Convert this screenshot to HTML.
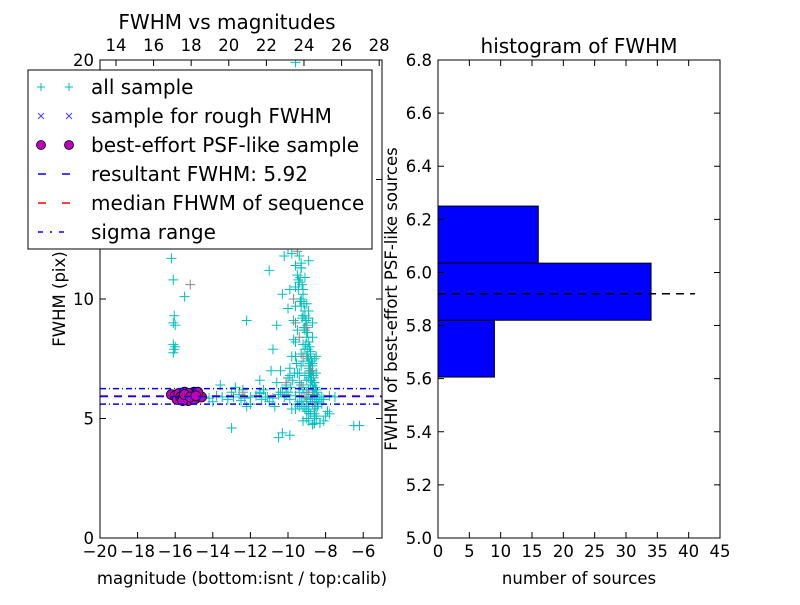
<!DOCTYPE html>
<html><head><meta charset="utf-8"><style>
body{margin:0;background:#fff;}
svg text{font-family:"DejaVu Sans","Liberation Sans",sans-serif;fill:#000;}
</style></head><body>
<svg id="fig" width="800" height="600" xmlns="http://www.w3.org/2000/svg">
<rect width="800" height="600" fill="#fff"/>
<g id="left"></g>
<g id="right"></g>
</svg>
<script>
// ---- data: left scatter ----
const allMag = [-16.2,-16.1,-16.05,-16.1,-16.05,-16.1,-16.0,-16.1,-16.05,-16.1,-16.0,-15.5,-13.2,-11.8,-11.0,-10.0,-9.5,-9.8,-10.2,-9.6,-9.3,-9.7,-9.5,-9.2,-9.6,-9.7,
-10.8,-10.6,-10.4,-10.3,-10.0,-9.9,-9.7,-9.6,-9.5,-9.4,-9.3,-9.3,-9.2,-9.1,-9.0,-9.0,-8.9,-8.8,-8.7,-8.6,-9.6,-9.5,-9.4,-9.3,-9.2,-9.1,-9.0,-8.9,-8.8,-9.4,-9.3,-9.2,-9.1,-9.0,-8.9,-8.8,-8.7,-9.2,-9.1,-9.0,-8.9,-8.8,-8.7,-8.6,-9.0,-8.9,-8.8,-8.7,-8.6,-8.5,-9.5,-9.3,-9.1,-8.9,-8.7,-8.5,-9.4,-9.2,-9.0,-8.8,-8.6,-8.4,-9.3,-9.1,-8.9,-8.7,-8.5,-10.3,-10.1,-9.9,-11.2,-10.9,-11.5,-12.2,-10.6,-9.8,-9.6,
-14.5,-14.2,-13.8,-13.5,-13.2,-12.9,-12.6,-12.3,-12.0,-11.7,-11.4,-11.1,-10.8,-10.5,-10.2,-9.9,-9.6,-9.3,-9.0,-8.7,-8.4,-8.1,-7.8,-7.5,-14.0,-13.0,-12.5,-11.5,-11.0,-10.0,-9.5,-8.9,-8.5,-8.2,-7.9,-12.8,-12.0,-11.3,-10.7,-10.1,-9.4,-9.1,-8.8,-8.6,-13.6,-12.2,-10.4,-9.8,-9.2,-8.3,
-13.0,-10.5,-10.3,-8.5,-8.6,-8.0,-7.8,-6.5,-6.2,-8.3,-8.1,-8.9,-8.7,-9.9,-12.4,-11.5,-10.1,
-9.4,-9.3,-9.35,-9.25,-9.2,-9.3,-9.15,-9.1,-9.2,-9.05,-9.0,-9.1,-8.95,-9.0,-8.9,-8.85,-8.95,-8.8,-8.9,-8.75,-8.8,-8.7,-8.85,-8.65,-8.75,-8.6,-8.7,-8.55,-8.65,-8.6,-8.5,-8.7,-8.55,-9.5,-9.45,-9.6,-9.7,-9.8,-9.9,-10.0,-10.1,-9.55,-9.65,-9.75,-9.85,-9.45,-9.35,-9.25,-9.15,-9.05,-8.95,-8.85,-8.75,-8.65,-8.45,-8.4,-9.3,-9.1,-8.9,-8.8,-9.0,-9.2,-8.6,-8.5,-8.45,-8.6,-8.8,-9.0,-9.2,-9.4,-9.6,-8.3,-8.2,-8.4];
const allFwhm = [11.7,12.7,12.8,10.8,9.3,9.0,8.9,8.1,7.9,7.75,8.0,10.1,12.3,12.7,11.2,12.1,12.6,13.0,11.8,11.4,11.5,13.5,14.2,16.4,19.9,13.8,
7.9,8.9,7.0,10.2,9.6,10.4,9.1,8.2,11.0,10.7,9.9,11.3,10.4,9.3,9.8,8.6,9.2,7.8,8.4,7.5,7.6,8.7,6.9,7.2,8.1,7.9,6.6,7.1,6.9,6.5,6.4,7.4,6.8,7.6,6.2,6.6,7.3,6.3,5.9,6.1,6.7,7.0,6.0,6.5,5.6,5.5,5.8,6.2,5.4,5.9,6.9,7.7,8.8,9.5,7.2,6.9,6.1,5.5,5.3,5.2,5.1,5.6,9.7,10.9,11.6,9.0,7.6,6.1,6.0,6.8,5.9,7.0,6.6,9.1,6.5,11.9,10.5,
5.9,5.85,5.95,5.9,5.8,5.9,6.0,5.85,5.9,5.95,5.8,5.9,5.85,6.0,5.9,5.8,5.95,5.9,5.85,5.9,5.7,5.8,5.95,5.9,5.7,6.1,5.75,6.05,5.7,6.1,5.6,5.5,6.2,5.6,5.3,6.3,5.6,6.2,5.5,6.3,5.7,5.4,6.4,5.2,6.4,5.5,6.1,5.4,6.2,5.8,
4.6,4.2,4.4,5.0,4.8,5.1,5.2,4.7,4.7,4.8,4.9,4.9,4.75,4.3,6.2,6.1,6.3,
11.8,11.3,10.9,10.6,10.2,10.0,9.8,9.5,9.3,9.1,8.9,8.7,8.6,8.4,8.2,8.0,7.9,7.7,7.5,7.4,7.2,7.0,6.9,6.8,6.6,6.5,6.4,6.3,6.2,6.0,5.8,5.7,5.5,12.2,10.8,9.7,8.3,7.6,7.1,6.7,6.4,7.3,6.9,6.6,6.3,10.4,9.9,9.2,8.8,8.1,7.6,7.3,6.9,6.7,6.1,5.9,5.6,5.4,5.3,5.2,5.0,4.9,4.8,5.1,5.5,5.7,5.8,5.7,5.6,5.5,5.4,5.8,5.9,5.6];
const roughMag = [-15.2,-9.6,-9.4,-9.2,-9.0,-8.8,-9.3,-9.1,-8.9,-9.5,-9.7,-10.1,-8.7,-12.4];
const roughFwhm = [10.6,9.0,8.4,7.6,8.8,7.0,6.4,5.9,6.1,12.0,10.0,6.5,5.6,6.1];
const psfMag = [-16.2,-16.0,-15.9,-15.8,-15.7,-15.6,-15.5,-15.4,-15.3,-15.2,-15.1,-15.0,-14.9,-14.8,-14.7,-14.6,-15.6,-15.3,-15.0,-14.8,-15.5,-15.2,-14.9];
const psfFwhm = [6.0,5.95,5.8,6.05,5.9,5.85,6.1,5.95,5.75,6.0,5.9,6.1,5.85,6.0,5.95,5.9,5.75,6.05,5.8,6.1,6.0,5.9,5.95];
const resultFwhm = 5.92, medianFwhm = 5.94, sigLow = 5.6, sigHigh = 6.25;
const xTicks = [-20,-18,-16,-14,-12,-10,-8,-6];
const xTickLabels = ["\u221220","\u221218","\u221216","\u221214","\u221212","\u221210","\u22128","\u22126"];
const yTicks = [0,5,10,15,20];
const yTickLabels = ["0","5","10","15","20"];
const topTicks = [14,16,18,20,22,24,26,28];
// ---- data: histogram ----
const binEdges = [5.606,5.82,6.035,6.25];
const binCounts = [9,34,16];
const hxTicks = [0,5,10,15,20,25,30,35,40,45];
const hyTicks = [5.0,5.2,5.4,5.6,5.8,6.0,6.2,6.4,6.6,6.8];
const hyTickLabels = ["5.0","5.2","5.4","5.6","5.8","6.0","6.2","6.4","6.6","6.8"];

const NS="http://www.w3.org/2000/svg";
function mk(p,t,a){const e=document.createElementNS(NS,t);for(const k in a)e.setAttribute(k,a[k]);p.appendChild(e);return e;}
const L=document.getElementById('left'), R=document.getElementById('right');
const FS=16.5, TS=20;
// left axes
const lx0=100,lx1=382,ly0=538,ly1=60;
const xs=v=>lx0+(v+20)/15*(lx1-lx0);
const ys=v=>ly0-v/20*(ly0-ly1);
const topS=v=>xs(v-33.15);
const clipDef=mk(L,'clipPath',{id:'lc'});mk(clipDef,'rect',{x:lx0,y:ly1,width:lx1-lx0,height:ly0-ly1});
const plot=mk(L,'g',{'clip-path':'url(#lc)'});


function plus(g,x,y,c,n){const p=mk(g,'path',{d:`M${x-5},${y}H${x+5}M${x},${y-5}V${y+5}`,stroke:c,'stroke-width':1,fill:'none'});}
allMag.forEach((m,i)=>plus(plot,xs(m),ys(allFwhm[i]),'#00bfbf','all-sample-point'));
roughMag.forEach((m,i)=>plus(plot,xs(m),ys(roughFwhm[i]),'#888','rough-sample-point'));
psfMag.forEach((m,i)=>{const c=mk(plot,'circle',{cx:xs(m),cy:ys(psfFwhm[i]),r:5,fill:'#bf00bf',stroke:'#000','stroke-width':0.8});

});
function hline(g,y,c,dash,n){const l=mk(g,'line',{x1:lx0,x2:lx1,y1:y,y2:y,stroke:c,'stroke-width':1.5,'stroke-dasharray':dash});}
hline(plot,ys(sigHigh),'#0000ff','6,3,1,3','sigma-high-line');
hline(plot,ys(sigLow),'#0000ff','6,3,1,3','sigma-low-line');
hline(plot,ys(medianFwhm),'#ff0000','8,6','median-line');
hline(plot,ys(resultFwhm),'#0000ff','8,6','result-line');
const lf=mk(L,'rect',{x:lx0,y:ly1,width:lx1-lx0,height:ly0-ly1,fill:'none',stroke:'#000'});

xTicks.forEach((v,i)=>{const x=xs(v);mk(L,'path',{d:`M${x},${ly0}v-6`,stroke:'#000'});
const t=mk(L,'text',{x:x,y:ly0+19,'text-anchor':'middle','font-size':FS});t.textContent=xTickLabels[i];
});
topTicks.forEach(v=>{const x=topS(v);mk(L,'path',{d:`M${x},${ly1}v6`,stroke:'#000'});
const t=mk(L,'text',{x:x,y:ly1-9,'text-anchor':'middle','font-size':FS});t.textContent=v;
});
yTicks.forEach((v,i)=>{const y=ys(v);mk(L,'path',{d:`M${lx0},${y}h6M${lx1},${y}h-6`,stroke:'#000'});
const t=mk(L,'text',{x:lx0-6,y:y+6,'text-anchor':'end','font-size':FS});t.textContent=yTickLabels[i];
});
let t;
t=mk(L,'text',{x:227,y:29,'text-anchor':'middle','font-size':TS});t.textContent='FWHM vs magnitudes';
t=mk(L,'text',{x:242,y:584,'text-anchor':'middle','font-size':FS});t.textContent='magnitude (bottom:isnt / top:calib)';
t=mk(L,'text',{x:0,y:0,'text-anchor':'middle','font-size':FS,transform:'translate(65,299) rotate(-90)'});t.textContent='FWHM (pix)';
// legend
const lg=mk(L,'g',{});
mk(lg,'rect',{x:28,y:70,width:344,height:179,fill:'#fff',stroke:'#000'});
const ent=[['all sample','plus'],['sample for rough FWHM','x'],['best-effort PSF-like sample','dot'],['resultant FWHM: 5.92','bdash'],['median FHWM of sequence','rdash'],['sigma range','dd']];
ent.forEach((e,i)=>{const y=87+i*29;const g=mk(lg,'g',{});
[41,69].forEach(x=>{if(e[1]=='plus')mk(g,'path',{d:`M${x-4},${y}h8M${x},${y-4}v8`,stroke:'#00bfbf'});
if(e[1]=='x')mk(g,'path',{d:`M${x-3},${y-3}l6,6M${x+3},${y-3}l-6,6`,stroke:'#4040ff'});
if(e[1]=='dot')mk(g,'circle',{cx:x,cy:y,r:4.5,fill:'#bf00bf',stroke:'#000','stroke-width':0.8});});
if(e[1]=='bdash')mk(g,'path',{d:`M38,${y}h8M62,${y}h8`,stroke:'#0000ff','stroke-width':1.5});
if(e[1]=='rdash')mk(g,'path',{d:`M38,${y}h8M62,${y}h8`,stroke:'#ff0000','stroke-width':1.5});
if(e[1]=='dd')mk(g,'path',{d:`M38,${y}h5M50,${y}h2M59,${y}h5`,stroke:'#0000ff','stroke-width':1.5});
const tt=mk(g,'text',{x:91,y:y+7,'font-size':TS});tt.textContent=e[0];});
// right histogram
const rx0=438,rx1=720,ry0=538,ry1=60;
const hx=v=>rx0+v/45*(rx1-rx0);
const hy=v=>ry0-(v-5)/1.8*(ry0-ry1);
binCounts.forEach((c,i)=>{const b=mk(R,'rect',{x:hx(0),y:hy(binEdges[i+1]),width:hx(c)-hx(0),height:hy(binEdges[i])-hy(binEdges[i+1]),fill:'#0000ff',stroke:'#000'});
});
const ml=mk(R,'line',{x1:hx(0),x2:hx(41),y1:hy(resultFwhm),y2:hy(resultFwhm),stroke:'#000','stroke-width':1.5,'stroke-dasharray':'8,6'});

const rf=mk(R,'rect',{x:rx0,y:ry1,width:rx1-rx0,height:ry0-ry1,fill:'none',stroke:'#000'});

hxTicks.forEach(v=>{const x=hx(v);mk(R,'path',{d:`M${x},${ry0}v-6M${x},${ry1}v6`,stroke:'#000'});
const t=mk(R,'text',{x:x,y:ry0+19,'text-anchor':'middle','font-size':FS});t.textContent=v;
});
hyTicks.forEach((v,i)=>{const y=hy(v);mk(R,'path',{d:`M${rx0},${y}h6M${rx1},${y}h-6`,stroke:'#000'});
const t=mk(R,'text',{x:rx0-6,y:y+6,'text-anchor':'end','font-size':FS});t.textContent=hyTickLabels[i];
});
t=mk(R,'text',{x:579,y:53,'text-anchor':'middle','font-size':TS});t.textContent='histogram of FWHM';
t=mk(R,'text',{x:579,y:584,'text-anchor':'middle','font-size':FS});t.textContent='number of sources';
t=mk(R,'text',{x:0,y:0,'text-anchor':'middle','font-size':FS,transform:'translate(397,299) rotate(-90)'});t.textContent='FWHM of best-effort PSF-like sources';
document.getElementById('fig').appendChild(lg);
</script>
</body></html>
